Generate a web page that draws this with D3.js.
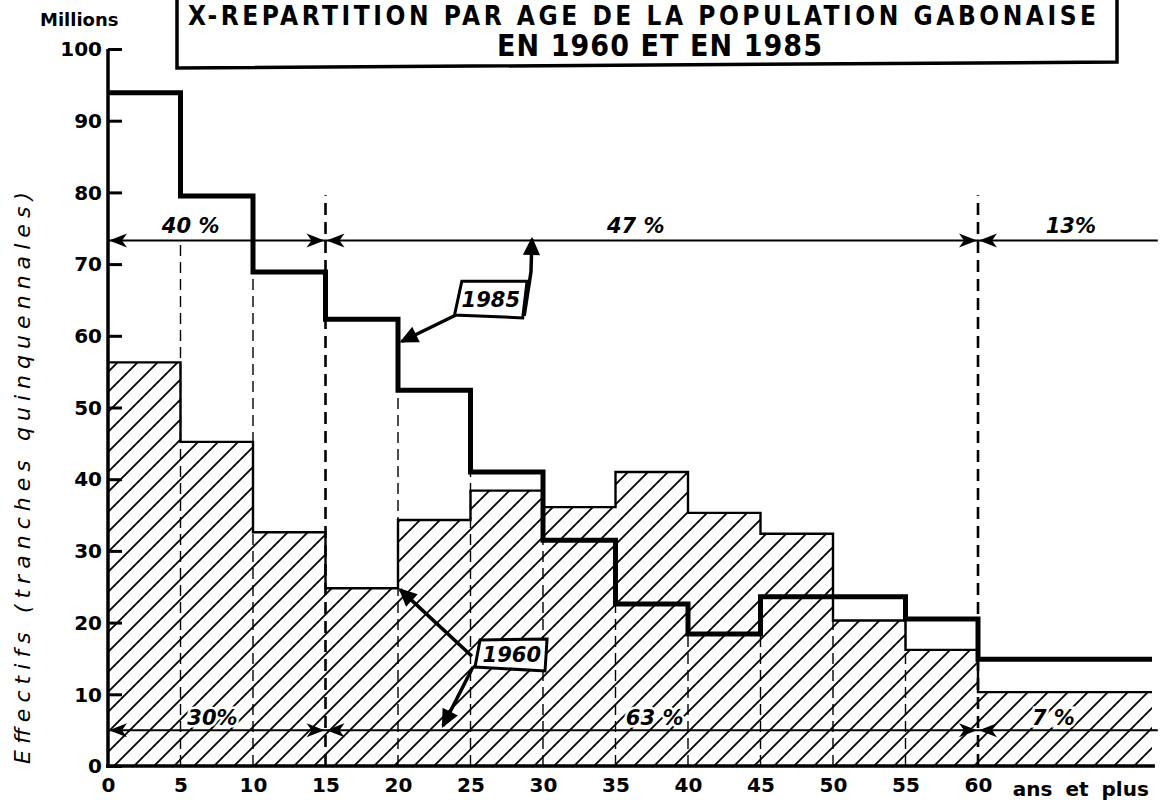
<!DOCTYPE html>
<html><head><meta charset="utf-8">
<script src="https://cdn.jsdelivr.net/npm/d3@7"></script>
<style>body{margin:0;background:#fff}</style>
</head><body>
<svg id="c" width="1168" height="800"></svg>
<script>
const ageStarts = [0,5,10,15,20,25,30,35,40,45,50,55,60];
const ageEnd = 72;
const pop1960 = [56.3,45.2,32.6,24.8,34.3,38.4,36.1,41.0,35.3,32.4,20.3,16.2,10.3];
const pop1985 = [93.9,79.5,68.9,62.3,52.4,41.0,31.5,22.6,18.4,23.6,23.6,20.5,14.9];
const xTickValues = [0,5,10,15,20,25,30,35,40,45,50,55,60];
const yTickValues = [0,10,20,30,40,50,60,70,80,90,100];
const groupBreaks = [15,60];
const groupLabels1985 = ["40 %","47 %","13%"];
const groupLabelX1985 = [5.7,36.4,66.4];
const groupLabels1960 = ["30%","63 %","7 %"];
const groupLabelX1960 = [7.2,37.7,65.2];
const arrowLevel1985 = 73.3;
const arrowLevel1960 = 5.0;
const titleLines = ["X-REPARTITION PAR AGE DE LA POPULATION GABONAISE","EN 1960  ET  EN 1985"];

const svg = d3.select("#c");
const x = d3.scaleLinear().domain([0, ageEnd]).range([108, 1152]);
const y = d3.scaleLinear().domain([0, 100]).range([766, 49]);
const P = (a,b) => [x(a), y(b)];

// hatch pattern
const defs = svg.append("defs");
const pat = defs.append("pattern").attr("id","hatch").attr("patternUnits","userSpaceOnUse")
  .attr("width",20).attr("height",20);
pat.append("path").attr("d","M-5,5 L5,-5 M0,20 L20,0 M15,25 L25,15")
  .attr("stroke","#000").attr("stroke-width",1.8);

const pts = v => ageStarts.map((a,i)=>[a, v[i]]).concat([[ageEnd, v[v.length-1]]]);

// 1960 hatched area
svg.append("path").datum(pts(pop1960))
  .attr("d", d3.area().curve(d3.curveStepAfter).x(d=>x(d[0])).y0(y(0)).y1(d=>y(d[1])))
  .attr("fill","url(#hatch)");

// dashed verticals
const g = svg.append("g");
ageStarts.slice(1).forEach((a,k)=>{
  const i = k+1;
  if (groupBreaks.includes(a)) return;
  const top = Math.min(pop1985[i-1], pop1985[i], arrowLevel1985);
  g.append("line").attr("x1",x(a)).attr("x2",x(a)).attr("y1",y(0)).attr("y2",y(top))
    .attr("stroke","#000").attr("stroke-width",1.4).attr("stroke-dasharray","11,6");
});
groupBreaks.forEach(a=>{
  g.append("line").attr("x1",x(a)).attr("x2",x(a)).attr("y1",y(0)).attr("y2",y(79.6))
    .attr("stroke","#000").attr("stroke-width",2.6).attr("stroke-dasharray","12,7");
});

// 1960 outline
svg.append("path").datum(pts(pop1960))
  .attr("d", d3.line().curve(d3.curveStepAfter).x(d=>x(d[0])).y(d=>y(d[1])))
  .attr("fill","none").attr("stroke","#000").attr("stroke-width",2.4);

// 1985 line
svg.append("path").datum(pts(pop1985))
  .attr("d", d3.line().curve(d3.curveStepAfter).x(d=>x(d[0])).y(d=>y(d[1])))
  .attr("fill","none").attr("stroke","#000").attr("stroke-width",5).attr("stroke-linejoin","miter");

// horizontal share lines with arrowheads
function headH(tipX, tipY, dir){
  const L=18, W=7, N=5;
  const p = [[tipX,tipY],[tipX-dir*L,tipY-W],[tipX-dir*(L-N),tipY],[tipX-dir*L,tipY+W]];
  svg.append("path").attr("d","M"+p.join("L")+"Z").attr("fill","#000");
}
[arrowLevel1985, arrowLevel1960].forEach(lv=>{
  svg.append("line").attr("x1",x(0)).attr("x2",x(72.4)).attr("y1",y(lv)).attr("y2",y(lv))
    .attr("stroke","#000").attr("stroke-width",2);
  headH(x(0)+1, y(lv), -1);
  groupBreaks.forEach(b=>{ headH(x(b)-1,y(lv),1); headH(x(b)+1,y(lv),-1); });
});

const labFont = "'DejaVu Sans', sans-serif";
groupLabels1985.forEach((t,i)=>{
  svg.append("text").attr("x",x(groupLabelX1985[i])).attr("y",y(arrowLevel1985)-7)
    .attr("text-anchor","middle").attr("font-family",labFont).attr("font-style","italic")
    .attr("font-weight",600).attr("font-size",21).attr("fill","#000").text(t);
});
groupLabels1960.forEach((t,i)=>{
  svg.append("text").attr("x",x(groupLabelX1960[i])).attr("y",y(arrowLevel1960)-5)
    .attr("text-anchor","middle").attr("font-family",labFont).attr("font-style","italic")
    .attr("font-weight",600).attr("font-size",21).attr("fill","#000")
    .attr("stroke","#fff").attr("stroke-width",5).attr("paint-order","stroke").text(t);
});

// annotations
function chevron(tip, from){
  const dx=from[0]-tip[0], dy=from[1]-tip[1], l=Math.hypot(dx,dy);
  const ux=dx/l, uy=dy/l, nx=-uy, ny=ux, L=15, W=7;
  const p1=[tip[0]+ux*L+nx*W, tip[1]+uy*L+ny*W], p2=[tip[0]+ux*L-nx*W, tip[1]+uy*L-ny*W];
  svg.append("path").attr("d","M"+p1+"L"+tip+"L"+p2+"Z").attr("fill","#000")
    .attr("stroke","#000").attr("stroke-width",2).attr("stroke-linejoin","miter");
}
function arrowPath(ptsData){
  const pp = ptsData.map(d=>P(d[0],d[1]));
  svg.append("path").attr("d","M"+pp.join("L")).attr("fill","none")
    .attr("stroke","#000").attr("stroke-width",3.5).attr("stroke-linejoin","round");
  chevron(pp[pp.length-1], pp[pp.length-2]);
}
function box(corners, cx, cy, label){
  svg.append("path").attr("d","M"+corners.map(d=>P(d[0],d[1])).join("L")+"Z")
    .attr("fill","#fff").attr("stroke","#000").attr("stroke-width",3);
  svg.append("text").attr("x",x(cx)).attr("y",y(cy)).attr("dy","0.36em")
    .attr("text-anchor","middle").attr("font-family",labFont).attr("font-style","italic")
    .attr("font-weight","bold").attr("font-size",21).text(label);
}
arrowPath([[24.0,62.9],[20.25,59.2]]);
arrowPath([[28.7,62.8],[29.17,68.9],[29.24,arrowLevel1985+0.2]]);
box([[24.4,67.6],[28.9,67.6],[28.6,62.5],[23.9,62.9]], 26.4, 65.1, "1985");

arrowPath([[25.1,15.3],[20.15,24.6]]);
arrowPath([[25.17,13.8],[23.1,5.6]]);
box([[25.66,17.57],[30.28,17.71],[30.14,13.25],[25.31,13.81]], 27.85, 15.5, "1960");

// axes
const tickFont = "'DejaVu Sans', sans-serif";
svg.append("line").attr("x1",x(0)).attr("x2",x(0)).attr("y1",y(100)).attr("y2",y(0)+2)
  .attr("stroke","#000").attr("stroke-width",3.5);
svg.append("line").attr("x1",x(0)-2).attr("x2",x(72.2)).attr("y1",y(0)).attr("y2",y(0))
  .attr("stroke","#000").attr("stroke-width",3.5);
const yAxis = svg.append("g").attr("transform",`translate(${x(0)},0)`)
  .call(d3.axisRight(y).tickValues(yTickValues).tickSize(14).tickFormat(""));
yAxis.select(".domain").remove();
yAxis.selectAll(".tick line").attr("stroke-width",3);
svg.append("g").selectAll("text").data(yTickValues).join("text")
  .attr("x",x(0)-6).attr("y",d=>y(d)).attr("dy","0.36em").attr("text-anchor","end")
  .attr("font-family",tickFont).attr("font-weight","bold").attr("font-size",20).text(d=>d);
const xAxis = svg.append("g").attr("transform",`translate(0,${y(0)})`)
  .call(d3.axisBottom(x).tickValues(xTickValues).tickSize(0).tickPadding(12));
xAxis.select(".domain").remove();
xAxis.selectAll("text").attr("font-family",tickFont).attr("font-weight","bold").attr("font-size",20).attr("fill","#000");
svg.append("text").attr("x",x(62.4)).attr("y",y(0)+30).attr("font-family",tickFont)
  .attr("font-weight","bold").attr("font-size",20).attr("word-spacing",6).text("ans et plus");
svg.append("text").attr("x",40).attr("y",26).attr("font-family",tickFont)
  .attr("font-weight","bold").attr("font-size",18).text("Millions");
svg.append("text").attr("transform","translate(30,478) rotate(-90)").attr("text-anchor","middle")
  .attr("font-family",labFont).attr("font-style","italic").attr("font-size",22)
  .attr("textLength",572).attr("lengthAdjust","spacing")
  .text("Effectifs  (tranches  quinquennales)");

// title box
svg.append("path").attr("d","M177,-3 L177,68 L1117,62 L1117,-3").attr("fill","none")
  .attr("stroke","#000").attr("stroke-width",3.5);
const tf = "'DejaVu Sans Condensed','DejaVu Sans',sans-serif";
svg.append("text").attr("x",188).attr("y",25).attr("font-family",tf).attr("font-stretch","condensed")
  .attr("font-weight","bold").attr("font-size",26).attr("textLength",908).attr("lengthAdjust","spacing")
  .text(titleLines[0]);
svg.append("text").attr("x",497).attr("y",56).attr("font-family",tf).attr("font-stretch","condensed")
  .attr("font-weight","bold").attr("font-size",30).attr("textLength",325).attr("lengthAdjust","spacing")
  .text(titleLines[1]);
</script>
</body></html>
